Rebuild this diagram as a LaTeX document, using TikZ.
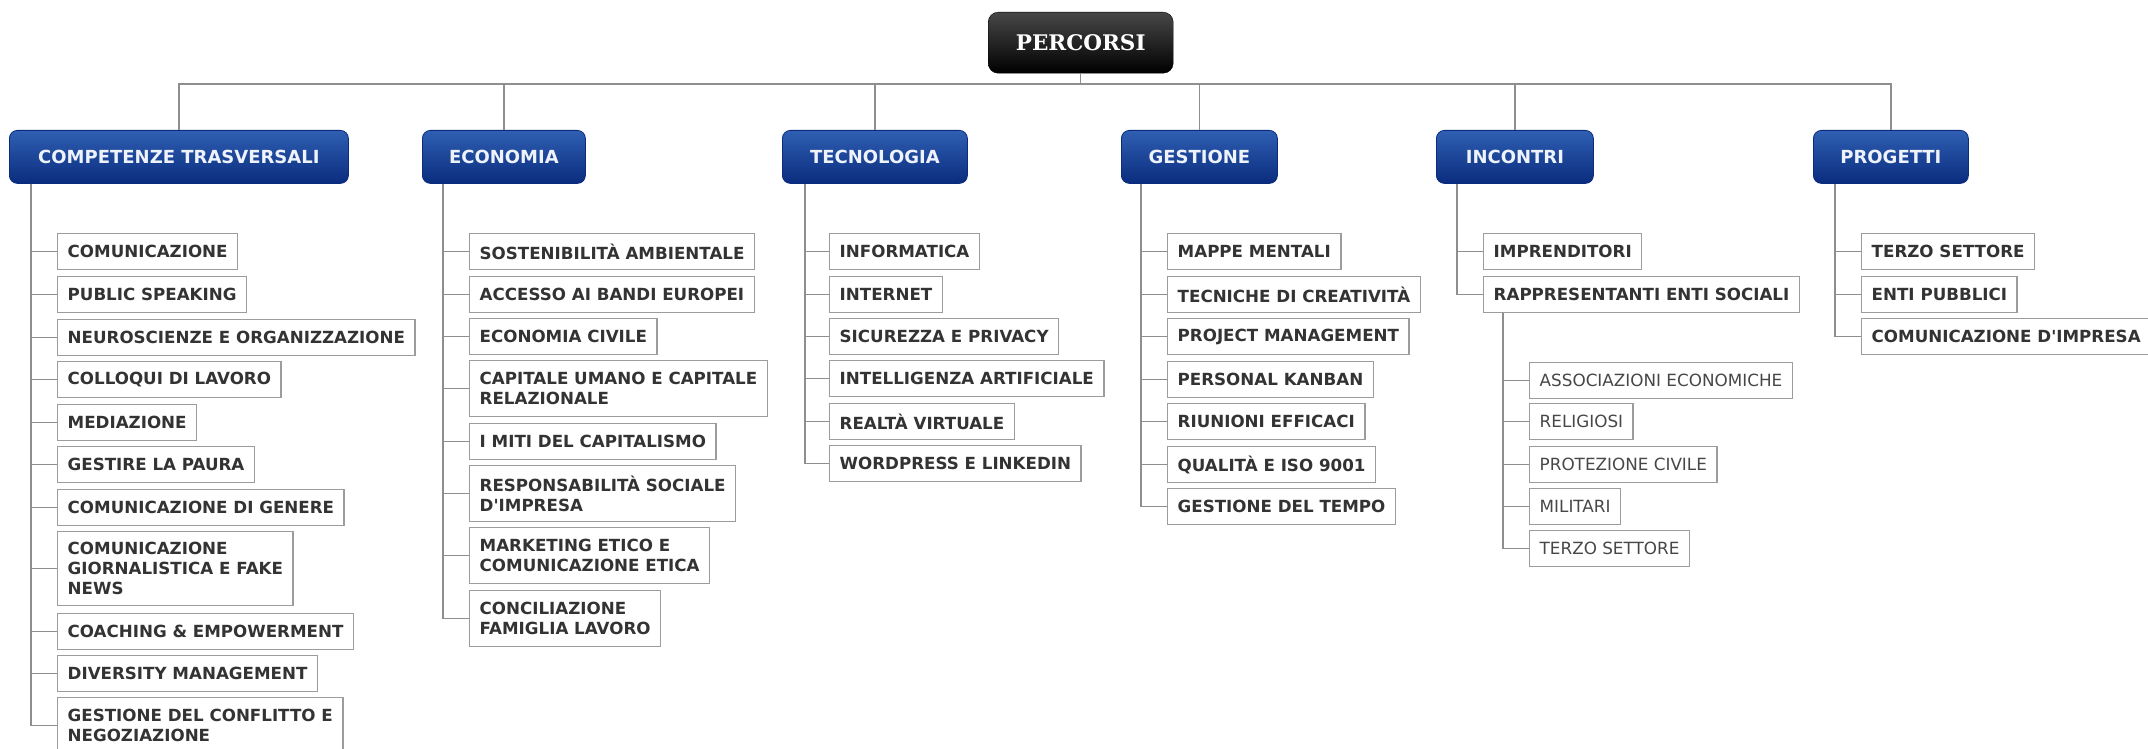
\documentclass[tikz,border=0pt]{standalone}
\usepackage{fontspec}
\newfontfamily\leaffont{DejaVu Sans}
\newfontfamily\rootfont{DejaVu Serif}
\usetikzlibrary{calc}
\definecolor{lnc}{HTML}{8E8E8E}
\definecolor{bdc}{HTML}{9C9C9C}
\definecolor{txc}{HTML}{333333}
\definecolor{subtx}{HTML}{474747}
\definecolor{mbtop}{HTML}{2F5FB3}
\definecolor{mbbot}{HTML}{0A2C7E}
\definecolor{mbtx}{HTML}{EEF3FB}
\tikzset{
  conn/.style={draw=lnc, line width=1.4pt},
  leaf/.style={draw=bdc, line width=1.4pt, fill=white, anchor=north west,
    inner xsep=10pt, inner ysep=2pt, align=left, text=txc,
    font=\leaffont\bfseries\fontsize{16.7}{20}\selectfont},
  subleaf/.style={leaf, text=subtx, font=\leaffont\fontsize{16.8}{20}\selectfont},
  hone/.style={minimum height=36pt},
  htwo/.style={minimum height=56pt},
  hthree/.style={minimum height=74pt},
  branch/.style={rounded corners=8pt, top color=mbtop, bottom color=mbbot, draw=mbbot,
    line width=0.8pt, anchor=north west, minimum height=53pt, text=mbtx,
    font=\leaffont\bfseries\fontsize{18}{21}\selectfont},
  rootbox/.style={rounded corners=10pt, top color=black!72, bottom color=black, draw=black,
    anchor=north west, minimum width=185pt, minimum height=61pt, text=white,
    font=\rootfont\bfseries\fontsize{21.5}{24}\selectfont}
}
\begin{document}
\begin{tikzpicture}[x=1pt,y=-1pt]
\useasboundingbox (0,0) rectangle (2148,749);
\clip (0,0) rectangle (2148,749);

% root and branches
\node[rootbox] (root) at (988,12) {PERCORSI};
\node[branch, minimum width=339pt] (comp) at (9,130) {COMPETENZE TRASVERSALI};
\node[branch, minimum width=163pt] (econ) at (422,130) {ECONOMIA};
\node[branch, minimum width=185pt] (tecn) at (782,130) {TECNOLOGIA};
\node[branch, minimum width=156pt] (gest) at (1121,130) {GESTIONE};
\node[branch, minimum width=157pt] (inco) at (1436,130) {INCONTRI};
\node[branch, minimum width=155pt] (prog) at (1813,130) {PROGETTI};

\coordinate (bus) at (0,84);
\foreach \b in {comp,econ,tecn,gest,inco,prog}{
  \draw[conn] (root.south) -- (root.south |- bus) -| (\b.north);
}

% COMPETENZE TRASVERSALI
\node[leaf,hone] (c1) at (57,233) {COMUNICAZIONE};
\node[leaf,hone] (c2) at (57,276) {PUBLIC SPEAKING};
\node[leaf,hone] (c3) at (57,319) {NEUROSCIENZE E ORGANIZZAZIONE};
\node[leaf,hone] (c4) at (57,361) {COLLOQUI DI LAVORO};
\node[leaf,hone] (c5) at (57,404) {MEDIAZIONE};
\node[leaf,hone] (c6) at (57,446) {GESTIRE LA PAURA};
\node[leaf,hone] (c7) at (57,489) {COMUNICAZIONE DI GENERE};
\node[leaf,hthree] (c8) at (57,531) {COMUNICAZIONE\\GIORNALISTICA E FAKE\\NEWS};
\node[leaf,hone] (c9) at (57,613) {COACHING \& EMPOWERMENT};
\node[leaf,hone] (c10) at (57,655) {DIVERSITY MANAGEMENT};
\node[leaf,htwo] (c11) at (57,697) {GESTIONE DEL CONFLITTO E\\NEGOZIAZIONE};
\coordinate (compv) at ($(comp.south west)+(22,0)$);
\foreach \n in {c1,c2,c3,c4,c5,c6,c7,c8,c9,c10,c11}{
  \draw[conn] (compv) |- (\n.west);
}

% ECONOMIA
\node[leaf,hone] (e1) at (469,233) {SOSTENIBILITÀ AMBIENTALE};
\node[leaf,hone] (e2) at (469,276) {ACCESSO AI BANDI EUROPEI};
\node[leaf,hone] (e3) at (469,318) {ECONOMIA CIVILE};
\node[leaf,htwo] (e4) at (469,360) {CAPITALE UMANO E CAPITALE\\RELAZIONALE};
\node[leaf,hone] (e5) at (469,423) {I MITI DEL CAPITALISMO};
\node[leaf,htwo] (e6) at (469,465) {RESPONSABILITÀ SOCIALE\\D'IMPRESA};
\node[leaf,htwo] (e7) at (469,527) {MARKETING ETICO E\\COMUNICAZIONE ETICA};
\node[leaf,htwo] (e8) at (469,590) {CONCILIAZIONE\\FAMIGLIA LAVORO};
\coordinate (econv) at ($(econ.south west)+(21,0)$);
\foreach \n in {e1,e2,e3,e4,e5,e6,e7,e8}{
  \draw[conn] (econv) |- (\n.west);
}

% TECNOLOGIA
\node[leaf,hone] (t1) at (829,233) {INFORMATICA};
\node[leaf,hone] (t2) at (829,276) {INTERNET};
\node[leaf,hone] (t3) at (829,318) {SICUREZZA E PRIVACY};
\node[leaf,hone] (t4) at (829,360) {INTELLIGENZA ARTIFICIALE};
\node[leaf,hone] (t5) at (829,403) {REALTÀ VIRTUALE};
\node[leaf,hone] (t6) at (829,445) {WORDPRESS E LINKEDIN};
\coordinate (tecnv) at ($(tecn.south west)+(23,0)$);
\foreach \n in {t1,t2,t3,t4,t5,t6}{
  \draw[conn] (tecnv) |- (\n.west);
}

% GESTIONE
\node[leaf,hone] (g1) at (1167,233) {MAPPE MENTALI};
\node[leaf,hone] (g2) at (1167,276) {TECNICHE DI CREATIVITÀ};
\node[leaf,hone] (g3) at (1167,318) {PROJECT MANAGEMENT};
\node[leaf,hone] (g4) at (1167,361) {PERSONAL KANBAN};
\node[leaf,hone] (g5) at (1167,403) {RIUNIONI EFFICACI};
\node[leaf,hone] (g6) at (1167,446) {QUALITÀ E ISO 9001};
\node[leaf,hone] (g7) at (1167,488) {GESTIONE DEL TEMPO};
\coordinate (gestv) at ($(gest.south west)+(20,0)$);
\foreach \n in {g1,g2,g3,g4,g5,g6,g7}{
  \draw[conn] (gestv) |- (\n.west);
}

% INCONTRI
\node[leaf,hone] (i1) at (1483,233) {IMPRENDITORI};
\node[leaf,hone] (i2) at (1483,276) {RAPPRESENTANTI ENTI SOCIALI};
\coordinate (incov) at ($(inco.south west)+(21,0)$);
\foreach \n in {i1,i2}{
  \draw[conn] (incov) |- (\n.west);
}
\node[subleaf,hone] (s1) at (1529,362) {ASSOCIAZIONI ECONOMICHE};
\node[subleaf,hone] (s2) at (1529,403) {RELIGIOSI};
\node[subleaf,hone] (s3) at (1529,446) {PROTEZIONE CIVILE};
\node[subleaf,hone] (s4) at (1529,488) {MILITARI};
\node[subleaf,hone] (s5) at (1529,530) {TERZO SETTORE};
\coordinate (rapv) at ($(i2.south west)+(20,0)$);
\foreach \n in {s1,s2,s3,s4,s5}{
  \draw[conn] (rapv) |- (\n.west);
}

% PROGETTI
\node[leaf,hone] (p1) at (1861,233) {TERZO SETTORE};
\node[leaf,hone] (p2) at (1861,276) {ENTI PUBBLICI};
\node[leaf,hone] (p3) at (1861,318) {COMUNICAZIONE D'IMPRESA};
\coordinate (progv) at ($(prog.south west)+(22,0)$);
\foreach \n in {p1,p2,p3}{
  \draw[conn] (progv) |- (\n.west);
}
\end{tikzpicture}
\end{document}
